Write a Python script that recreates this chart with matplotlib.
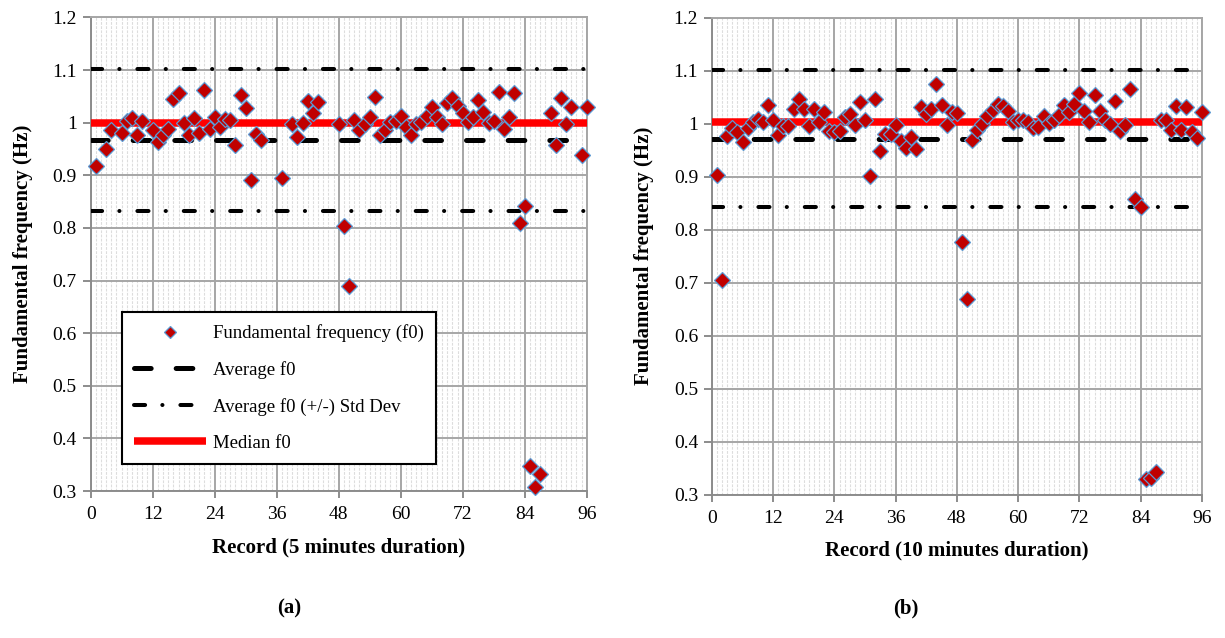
import matplotlib
matplotlib.use("Agg")
import matplotlib.pyplot as plt
from matplotlib.ticker import MultipleLocator, FuncFormatter
from matplotlib.lines import Line2D

plt.rcParams['font.family'] = ['Liberation Serif', 'DejaVu Serif']
plt.rcParams['lines.scale_dashes'] = False

# ---------------------
# Data
# ---------------------
rec_a = [1, 3, 4, 6, 7, 8, 9, 10, 12, 13, 14, 15, 16, 17, 18, 19, 20, 21, 22, 23,
         24, 25, 26, 27, 28, 29, 30, 31, 32, 33, 37, 39, 40, 41, 42, 43, 44, 48, 49, 50,
         51, 52, 53, 54, 55, 56, 57, 58, 59, 60, 61, 62, 63, 64, 65, 66, 67, 68, 69, 70,
         71, 72, 73, 74, 75, 76, 77, 78, 79, 80, 81, 82, 83, 84, 85, 86, 87, 89, 90, 91,
         92, 93, 95, 96]
f0_a = [0.917, 0.950, 0.987, 0.981, 1.003, 1.009, 0.977, 1.004, 0.987, 0.963,
        0.976, 0.988, 1.046, 1.057, 1.000, 0.977, 1.009, 0.980, 1.062, 0.988,
        1.010, 0.991, 1.007, 1.005, 0.958, 1.052, 1.028, 0.892, 0.978, 0.968,
        0.894, 0.998, 0.972, 0.999, 1.042, 1.019, 1.039, 0.998, 0.803, 0.690,
        1.005, 0.986, 0.998, 1.011, 1.048, 0.976, 0.987, 1.002, 1.003, 1.012,
        0.992, 0.977, 0.998, 1.002, 1.012, 1.029, 1.010, 0.998, 1.037, 1.047,
        1.031, 1.019, 1.002, 1.010, 1.044, 1.020, 1.000, 1.003, 1.059, 0.988,
        1.010, 1.056, 0.810, 0.842, 0.348, 0.308, 0.333, 1.019, 0.957, 1.047,
        0.998, 1.030, 0.938, 1.030]
avg_a, std_a, med_a = 0.967, 0.135, 1.000

rec_b = list(range(1, 97))
f0_b = [0.904, 0.706, 0.977, 0.991, 0.984, 0.965, 0.992, 1.003, 1.009, 1.003,
        1.036, 1.006, 0.978, 0.995, 0.995, 1.027, 1.047, 1.027, 0.995, 1.027,
        1.004, 1.022, 0.987, 0.985, 0.987, 1.013, 1.019, 0.997, 1.040, 1.007,
        0.901, 1.047, 0.948, 0.980, 0.980, 0.998, 0.968, 0.955, 0.974, 0.953,
        1.032, 1.019, 1.027, 1.075, 1.035, 0.997, 1.022, 1.021, 0.777, 0.670,
        0.969, 0.988, 1.000, 1.014, 1.025, 1.038, 1.033, 1.024, 1.003, 1.007,
        1.007, 1.004, 0.992, 0.994, 1.014, 1.002, 1.007, 1.017, 1.036, 1.022,
        1.038, 1.057, 1.023, 1.003, 1.055, 1.023, 1.007, 0.999, 1.042, 0.987,
        0.997, 1.066, 0.858, 0.842, 0.329, 0.331, 0.343, 1.006, 1.006, 0.988,
        1.033, 0.988, 1.032, 0.985, 0.973, 1.022]
avg_b, std_b, med_b = 0.972, 0.129, 1.004

xticks = [0, 12, 24, 36, 48, 60, 72, 84, 96]

# line styles
avg_style = dict(color='black', lw=3.6, ls=(0, (12, 18)), solid_capstyle='round',
                 dash_capstyle='round')
std_style = dict(color='black', lw=2.9, ls=(0, (8, 12.4, 0.1, 12.9)),
                 dash_capstyle='round')
med_style = dict(color='#FF0000', lw=5.4, solid_capstyle='butt')
pt_style = dict(ls='none', marker='D', markersize=8, markerfacecolor='#C00000',
                markeredgecolor='#5B9BD5', markeredgewidth=0.9)


def draw_panel(ax, rec, f0, avg, std, med, xlabel):
    span = [0, 96]
    ax.plot(span, [avg + std] * 2, zorder=3, **std_style)
    ax.plot(span, [avg - std] * 2, zorder=3, **std_style)
    ax.plot(span, [avg] * 2, zorder=3, **avg_style)
    ax.plot(span, [med] * 2, zorder=3, **med_style)
    ax.plot(rec, f0, zorder=4, clip_on=False, **pt_style)

    ax.set_xlim(0, 96)
    ax.set_ylim(0.3, 1.2)
    ax.xaxis.set_minor_locator(MultipleLocator(1))
    ax.yaxis.set_major_locator(MultipleLocator(0.1))
    ax.set_xticks(xticks)
    ax.yaxis.set_major_formatter(FuncFormatter(lambda v, p: '%g' % round(v, 1)))
    ax.grid(True, which='major', color='#A6A6A6', lw=1.4, zorder=1)
    ax.grid(True, which='minor', axis='x', color='#DDDDDD', lw=0.8,
            ls=(0, (2, 1)), zorder=0)
    ax.set_axisbelow(True)
    for s in ax.spines.values():
        s.set_color('#A6A6A6')
        s.set_linewidth(1.4)
    ax.spines['left'].set_color('#8C8C8C')
    ax.spines['bottom'].set_color('#8C8C8C')
    ax.tick_params(axis='both', which='major', labelsize=14, colors='#8C8C8C',
                   labelcolor='black', direction='out', width=1.4)
    ax.tick_params(axis='y', which='major', length=6, pad=4)
    ax.tick_params(axis='x', which='major', length=5, pad=6)
    ax.tick_params(which='minor', length=0)
    ax.set_xlabel(xlabel, fontsize=15, fontweight='bold', labelpad=10)
    ax.set_ylabel("Fundamental frequency (Hz)", fontsize=15, fontweight='bold',
                  labelpad=14)


fig = plt.figure(figsize=(12.25, 6.38), dpi=100)
ax1 = fig.add_axes([0.074, 0.2304, 0.405, 0.7422])
ax2 = fig.add_axes([0.5812, 0.2246, 0.3998, 0.7477])

draw_panel(ax1, rec_a, f0_a, avg_a, std_a, med_a, "Record (5 minutes duration)")
draw_panel(ax2, rec_b, f0_b, avg_b, std_b, med_b, "Record (10 minutes duration)")

handles = [
    Line2D([], [], ls='none', marker='D', markersize=6, markerfacecolor='#C00000',
           markeredgecolor='#5B9BD5', markeredgewidth=0.9),
    Line2D([], [], **avg_style),
    Line2D([], [], **std_style),
    Line2D([], [], **med_style),
]
labels = ["Fundamental frequency (f0)", "Average f0",
          "Average f0 (+/-) Std Dev", "Median f0"]
leg = ax1.legend(handles, labels, loc='upper left',
                 bbox_to_anchor=(31.0 / 496, 1 - 294.8 / 473.5),
                 fontsize=13.5, handlelength=3.85, handletextpad=0.35,
                 labelspacing=1.0, borderpad=0.65, borderaxespad=0,
                 fancybox=False, framealpha=1, edgecolor='black')
leg.get_frame().set_linewidth(1.5)
leg.set_zorder(6)

fig.text(289 / 1225, 1 - 608 / 638, "(a)", fontsize=15, fontweight='bold',
         ha='center', va='center')
fig.text(906 / 1225, 1 - 608 / 638, "(b)", fontsize=15, fontweight='bold',
         ha='center', va='center')

fig.savefig("out.png", dpi=100)
